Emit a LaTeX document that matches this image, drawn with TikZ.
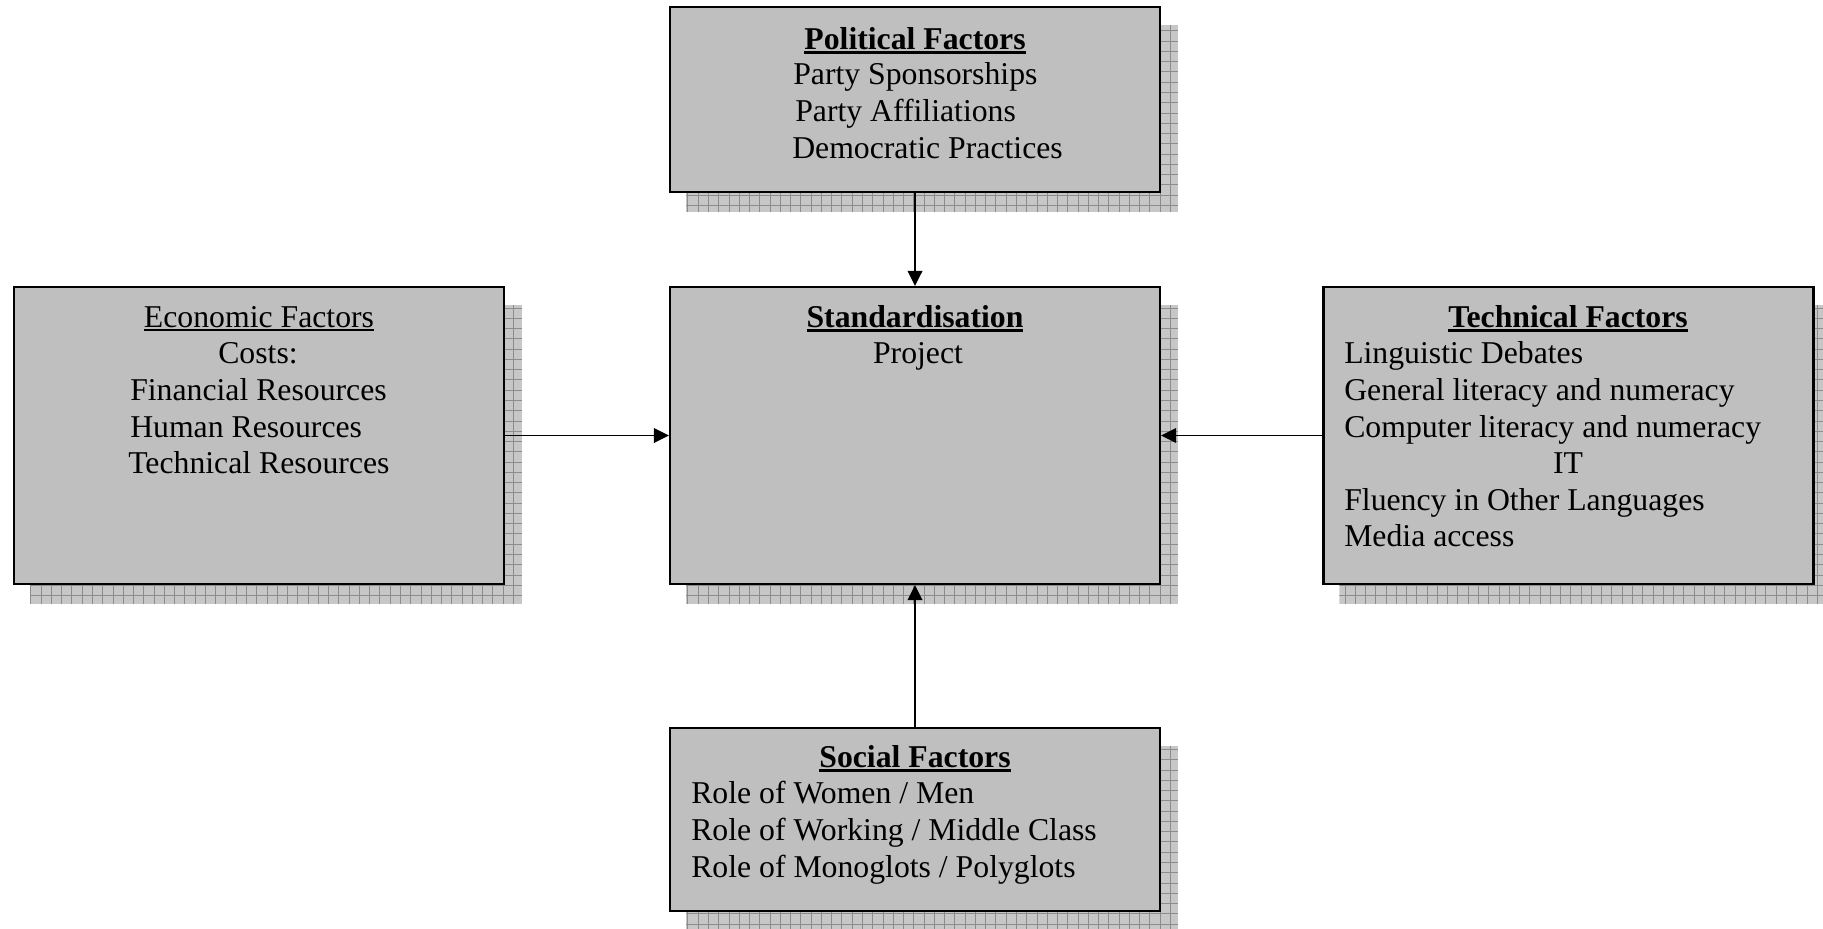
\documentclass[tikz,border=0pt]{standalone}
\usepackage{fontspec}
\setmainfont{Liberation Serif}
\usetikzlibrary{arrows.meta,backgrounds}

% underlined heading: rule just below the baseline
\newcommand\headul[2][1.8pt]{\leavevmode\vtop{\hbox{#2}\kern1.6pt\hrule height #1}}

\tikzset{
  box/.style={draw=black, line width=1.6pt, fill=black!25, inner sep=0pt,
              minimum width=367.5pt, minimum height=#1},
  box/.default=222.75pt,
  txt/.style={inner sep=0pt, font=\fontsize{23.8}{27}\selectfont},
  arr/.style={line width=1.1pt, -{Triangle[length=11.25pt,width=11pt]}},
  shadefill/.style={fill=black!22},
  shadegrid/.style={draw=black!45, line width=0.6pt},
}

% grid-patterned drop shadow behind a box
\newcommand\boxshadow[1]{%
  \begin{scope}
    \clip ([shift={(17,19)}]#1.south west) rectangle ([shift={(17,19)}]#1.north east);
    \path[shadefill] ([shift={(17,19)}]#1.south west) rectangle ([shift={(17,19)}]#1.north east);
    \draw[shadegrid, step=7.7pt] ([shift={(17,19)}]#1.south west) grid ([shift={(17,19)}]#1.north east);
  \end{scope}}

\begin{document}
\begin{tikzpicture}[x=0.75pt, y=-0.75pt]
  \useasboundingbox (0,0) rectangle (1823,928);

  % boxes
  \node[box=138.75pt] (pol) at (915,99.5) {};
  \node[box] (std) at (915,435.5) {};
  \node[box] (eco) at (259,435.5) {};
  \node[box] (tec) at (1568.5,435.5) {};
  \node[box=137.25pt] (soc) at (915,819.5) {};

  \begin{scope}[on background layer]
    \boxshadow{pol}
    \boxshadow{std}
    \boxshadow{eco}
    \boxshadow{tec}
    \boxshadow{soc}
  \end{scope}

  % Political Factors
  \node[txt, anchor=base] (polh) at (915,49) {\headul{\textbf{Political Factors}}};
  \node[txt, anchor=base west] (pol1) at (793,84) {Party Sponsorships};
  \node[txt, anchor=base west] (pol2) at (795,121) {Party Affiliations};
  \node[txt, anchor=base west] (pol3) at (792,158) {Democratic Practices};

  % Standardisation
  \node[txt, anchor=base] (stdh) at (915,327) {\headul{\textbf{Standardisation}}};
  \node[txt, anchor=base] (std1) at (918,363) {Project};

  % Economic Factors
  \node[txt, anchor=base] (ecoh) at (259,327) {\headul[0.9pt]{Economic Factors}};
  \node[txt, anchor=base] (eco1) at (258,363) {Costs:};
  \node[txt, anchor=base west] (eco2) at (130,400) {Financial Resources};
  \node[txt, anchor=base west] (eco3) at (130,437) {Human Resources};
  \node[txt, anchor=base west] (eco4) at (128,473) {Technical Resources};

  % Technical Factors
  \node[txt, anchor=base] (tech) at (1568,327) {\headul{\textbf{Technical Factors}}};
  \node[txt, anchor=base west] (tec1) at (1344,363) {Linguistic Debates};
  \node[txt, anchor=base west] (tec2) at (1344,400) {General literacy and numeracy};
  \node[txt, anchor=base west] (tec3) at (1344,437) {Computer literacy and numeracy};
  \node[txt, anchor=base] (tec4) at (1568,473) {IT};
  \node[txt, anchor=base west] (tec5) at (1344,510) {Fluency in Other Languages};
  \node[txt, anchor=base west] (tec6) at (1344,546) {Media access};

  % Social Factors
  \node[txt, anchor=base] (soch) at (915,767) {\headul{\textbf{Social Factors}}};
  \node[txt, anchor=base west] (soc1) at (691,803) {Role of Women / Men};
  \node[txt, anchor=base west] (soc2) at (691,840) {Role of Working / Middle Class};
  \node[txt, anchor=base west] (soc3) at (691,877) {Role of Monoglots / Polyglots};

  % influences on the project
  \draw[arr] (pol.south) -- (std.north);
  \draw[arr] (eco.east) -- (std.west);
  \draw[arr] (tec.west) -- (std.east);
  \draw[arr] (soc.north) -- (std.south);
\end{tikzpicture}
\end{document}
